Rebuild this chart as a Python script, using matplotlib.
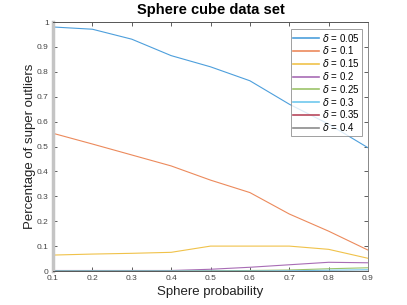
import numpy as np
import matplotlib
matplotlib.use("Agg")
import matplotlib.pyplot as plt

plt.rcParams["font.family"] = ["Liberation Sans", "DejaVu Sans"]
plt.rcParams["mathtext.fontset"] = "dejavusans"

# sphere probability on the x axis
sphere_prob = [0.1, 0.2, 0.3, 0.4, 0.5, 0.6, 0.7, 0.8, 0.9]

# percentage of super outliers, one series per delta
deltas = ["0.05", "0.1", "0.15", "0.2", "0.25", "0.3", "0.35", "0.4"]
d005 = [0.980, 0.971, 0.931, 0.865, 0.820, 0.764, 0.670, 0.590, 0.495]
d010 = [0.553, 0.510, 0.466, 0.422, 0.365, 0.315, 0.229, 0.160, 0.084]
d015 = [0.064, 0.068, 0.071, 0.075, 0.100, 0.100, 0.100, 0.087, 0.051]
d020 = [0.002, 0.002, 0.002, 0.002, 0.007, 0.015, 0.025, 0.035, 0.033]
d025 = [0.000, 0.000, 0.000, 0.000, 0.001, 0.002, 0.004, 0.009, 0.013]
d030 = [0.000, 0.000, 0.000, 0.000, 0.000, 0.000, 0.001, 0.003, 0.005]
d035 = [0.000, 0.000, 0.000, 0.000, 0.000, 0.000, 0.000, 0.000, 0.000]
d040 = [0.000, 0.000, 0.000, 0.000, 0.000, 0.000, 0.000, 0.000, 0.000]
series = [d005, d010, d015, d020, d025, d030, d035, d040]

colors = ["#4d9fdc", "#ec8a5c", "#f0c24a", "#a86cb5", "#9cc46a",
          "#70c8ee", "#b8485c", "#8c8c8c"]

fig = plt.figure(figsize=(4.07, 3.05), dpi=100)
ax = fig.add_axes([53 / 407, 1 - 271 / 305, 315 / 407, 249 / 305])

for vals, d, c in zip(series, deltas, colors):
    ax.plot(sphere_prob, vals, color=c, lw=0.8, label=r"$\delta$ = " + d)

ax.set_xlim(0.1, 0.9)
ax.set_ylim(0, 1)
ax.set_xticks(sphere_prob)
ax.set_xticklabels([f"{v:g}" for v in sphere_prob])
yt = np.round(np.arange(0, 1.01, 0.1), 1)
ax.set_yticks(yt)
ax.set_yticklabels([f"{v:g}" for v in yt])
ax.tick_params(direction="in", length=3, width=0.6, labelsize=6,
               colors="#444444", top=True, right=True)
ax.tick_params(axis="x", pad=3)
ax.tick_params(axis="y", pad=3)

for side in ["top", "bottom", "right"]:
    ax.spines[side].set_linewidth(0.7)
    ax.spines[side].set_color("#555555")
ax.spines["left"].set_linewidth(2.5)
ax.spines["left"].set_color("#c4c4c4")
ax.spines["right"].set_color("#888888")

ax.set_title("Sphere cube data set", fontsize=10.5, fontweight="bold", pad=6)
ax.set_xlabel("Sphere probability", fontsize=9.5, color="#222222", labelpad=3)
ax.set_ylabel("Percentage of super outliers", fontsize=9.5, color="#222222",
              labelpad=1)

leg = ax.legend(loc="upper right", bbox_to_anchor=(0.98, 0.971), fontsize=7,
                handlelength=2.6, handletextpad=0.3, borderpad=0.25,
                labelspacing=0.08, frameon=True, fancybox=False,
                borderaxespad=0)
leg.get_frame().set_edgecolor("#888888")
leg.get_frame().set_linewidth(0.7)
for line in leg.get_lines():
    line.set_linewidth(1.2)

fig.savefig("out.png", dpi=100)
